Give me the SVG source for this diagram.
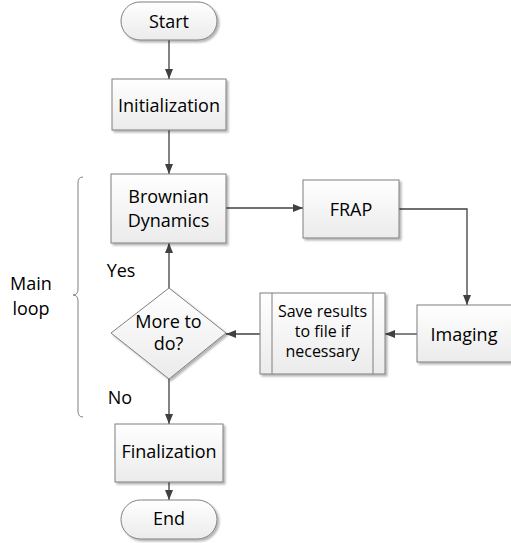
<svg xmlns="http://www.w3.org/2000/svg" width="511" height="543" viewBox="0 0 511 543">
<defs>
<linearGradient id="g" x1="0" y1="0" x2="0" y2="1">
<stop offset="0" stop-color="#ffffff"/>
<stop offset="1" stop-color="#ebebeb"/>
</linearGradient>
<filter id="sh" x="-10%" y="-10%" width="130%" height="130%">
<feGaussianBlur in="SourceAlpha" stdDeviation="1"/>
<feOffset dx="2" dy="2" result="b"/>
<feComponentTransfer><feFuncA type="linear" slope="0.3"/></feComponentTransfer>
<feMerge><feMergeNode/><feMergeNode in="SourceGraphic"/></feMerge>
</filter>
<marker id="ah" viewBox="0 0 10 10" refX="10" refY="5" markerWidth="10" markerHeight="10" markerUnits="userSpaceOnUse" orient="auto">
<path d="M0,1 L10,5 L0,9 z" fill="#404040"/>
</marker>
</defs>
<style>
.n{fill:url(#g);stroke:#7f7f7f;stroke-width:1;filter:url(#sh)}
.t{font-family:"Open Sans","Liberation Sans",sans-serif;font-size:18px;fill:#000;text-anchor:middle}
.s{font-size:16px}
.c{fill:none;stroke:#404040;stroke-width:1.3;marker-end:url(#ah)}
.l{fill:none;stroke:#7f7f7f;stroke-width:1}
</style>
<g id="connectors">
<path class="c" d="M169,40 V79"/>
<path class="c" d="M169,130 V174"/>
<path class="c" d="M226,208 H303"/>
<path class="c" d="M399,209 H467 V305"/>
<path class="c" d="M417,334 H385"/>
<path class="c" d="M260,334 H226"/>
<path class="c" d="M169,288 V243"/>
<path class="c" d="M169,379 V424"/>
<path class="c" d="M169,482 V500"/>
</g>
<g id="start">
<rect class="n" x="121" y="2" width="96" height="38" rx="19"/>
<text class="t" x="169" y="28">Start</text>
</g>
<g id="init">
<rect class="n" x="112" y="79" width="114" height="51"/>
<text class="t" x="169" y="112">Initialization</text>
</g>
<g id="brownian">
<rect class="n" x="111" y="174" width="115" height="69"/>
<text class="t" x="168.5" y="203">Brownian</text>
<text class="t" x="168.5" y="227">Dynamics</text>
</g>
<g id="frap">
<rect class="n" x="303" y="180" width="96" height="58"/>
<text class="t" x="351" y="216">FRAP</text>
</g>
<g id="imaging">
<rect class="n" x="417" y="305" width="96" height="57"/>
<text class="t" x="464" y="341">Imaging</text>
</g>
<g id="save">
<rect class="n" x="260" y="293" width="125" height="81"/>
<path class="l" d="M272,293 V374 M373,293 V374"/>
<text class="t s" x="322.5" y="317">Save results</text>
<text class="t s" x="322.5" y="337">to file if</text>
<text class="t s" x="322.5" y="357">necessary</text>
</g>
<g id="decision">
<path class="n" d="M169,288 L226,333 L169,379 L111,333 Z"/>
<text class="t" x="168.5" y="328">More to</text>
<text class="t" x="168.5" y="350">do?</text>
</g>
<g id="final">
<rect class="n" x="115" y="424" width="108" height="58"/>
<text class="t" x="169" y="458">Finalization</text>
</g>
<g id="end">
<rect class="n" x="121" y="500" width="96" height="39" rx="19.5"/>
<text class="t" x="169" y="525">End</text>
</g>
<g id="labels">
<text class="t" x="121" y="277">Yes</text>
<text class="t" x="120" y="404">No</text>
<path d="M83,177 Q78,177 78,183 V289 Q78,295 73,295 Q78,295 78,301 V411 Q78,417 83,417" fill="none" stroke="#7f7f7f" stroke-width="1"/>
<text class="t" x="31" y="290">Main</text>
<text class="t" x="31" y="315">loop</text>
</g>
</svg>
